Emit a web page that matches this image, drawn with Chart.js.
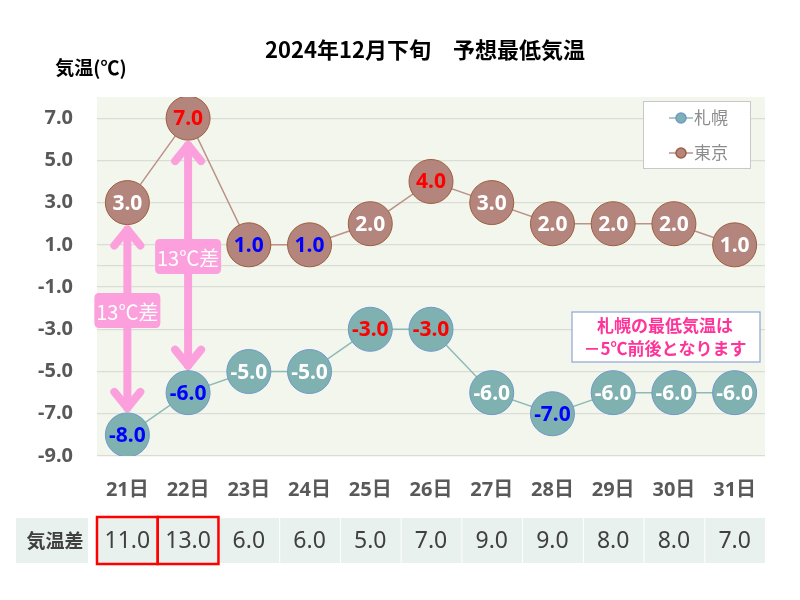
<!DOCTYPE html>
<html>
<head>
<meta charset="utf-8">
<script src="https://cdn.jsdelivr.net/npm/chart.js@4.4.1/dist/chart.umd.min.js"></script>
<style>
  body { margin: 0; background: #fff; }
  canvas { display: block; }
</style>
</head>
<body>
<canvas id="myCanvas" width="800" height="600"></canvas>
<script>
var days = ["21日", "22日", "23日", "24日", "25日", "26日", "27日", "28日", "29日", "30日", "31日"];
var sapporo = [-8, -6, -5, -5, -3, -3, -6, -7, -6, -6, -6];
var tokyo = [3, 7, 1, 1, 2, 4, 3, 2, 2, 2, 1];
var diff = [11, 13, 6, 6, 5, 7, 9, 9, 8, 8, 7];
var sapporoLabelColors = ["#0000ff", "#0000ff", "#fff", "#fff", "#ff0000", "#ff0000", "#fff", "#0000ff", "#fff", "#fff", "#fff"];
var tokyoLabelColors = ["#fff", "#ff0000", "#0000ff", "#0000ff", "#fff", "#ff0000", "#fff", "#fff", "#fff", "#fff", "#fff"];

var FONT = '"Noto Sans", "Noto Sans CJK JP", sans-serif';
var JFONT = '"Noto Sans CJK JP", "Noto Sans", sans-serif';

function roundRect(ctx, x, y, w, h, r) {
  ctx.beginPath();
  ctx.moveTo(x + r, y);
  ctx.lineTo(x + w - r, y);
  ctx.quadraticCurveTo(x + w, y, x + w, y + r);
  ctx.lineTo(x + w, y + h - r);
  ctx.quadraticCurveTo(x + w, y + h, x + w - r, y + h);
  ctx.lineTo(x + r, y + h);
  ctx.quadraticCurveTo(x, y + h, x, y + h - r);
  ctx.lineTo(x, y + r);
  ctx.quadraticCurveTo(x, y, x + r, y);
  ctx.closePath();
}

function arrow(ctx, x, y1, y2) {
  ctx.save();
  ctx.strokeStyle = "#fba0dc";
  ctx.lineWidth = 8;
  ctx.lineCap = "round";
  ctx.lineJoin = "round";
  ctx.beginPath();
  ctx.moveTo(x, y1 + 3);
  ctx.lineTo(x, y2 - 3);
  ctx.stroke();
  ctx.beginPath();
  ctx.moveTo(x - 13, y1 + 19);
  ctx.lineTo(x, y1 + 3);
  ctx.lineTo(x + 13, y1 + 19);
  ctx.stroke();
  ctx.beginPath();
  ctx.moveTo(x - 13, y2 - 19);
  ctx.lineTo(x, y2 - 3);
  ctx.lineTo(x + 13, y2 - 19);
  ctx.stroke();
  ctx.restore();
}

function diffTag(ctx, x, y, text) {
  ctx.save();
  ctx.fillStyle = "#fba0dc";
  roundRect(ctx, x - 33, y - 18, 66, 35, 5);
  ctx.fill();
  ctx.fillStyle = "#fff";
  ctx.font = "20px " + JFONT;
  ctx.textAlign = "center";
  ctx.textBaseline = "middle";
  ctx.fillText(text, x, y + 1);
  ctx.restore();
}

var bgPlugin = {
  id: "plotBg",
  beforeDraw: function (chart) {
    var a = chart.chartArea;
    var ctx = chart.ctx;
    ctx.save();
    ctx.fillStyle = "#f2f6ec";
    ctx.fillRect(a.left, a.top, a.right - a.left, a.bottom - a.top);
    ctx.restore();
  }
};

var extrasPlugin = {
  id: "extras",
  afterDatasetsDraw: function (chart) {
    var ctx = chart.ctx;
    var x = chart.scales.x;
    var y = chart.scales.y;

    // labels inside circles
    var sets = [[0, sapporoLabelColors], [1, tokyoLabelColors]];
    ctx.save();
    ctx.font = "bold 21px " + FONT;
    ctx.textAlign = "center";
    ctx.textBaseline = "middle";
    sets.forEach(function (s) {
      var meta = chart.getDatasetMeta(s[0]);
      var data = chart.data.datasets[s[0]].data;
      meta.data.forEach(function (pt, i) {
        ctx.fillStyle = s[1][i];
        ctx.fillText(data[i].toFixed(1), pt.x, pt.y + 1);
      });
    });
    ctx.restore();

    // arrows
    var r = 24;
    var x0 = x.getPixelForValue(0);
    var x1 = x.getPixelForValue(1);
    arrow(ctx, x0, y.getPixelForValue(tokyo[0]) + r, y.getPixelForValue(sapporo[0]) - r);
    arrow(ctx, x1, y.getPixelForValue(tokyo[1]) + r, y.getPixelForValue(sapporo[1]) - r);
    diffTag(ctx, x0, 311, "13℃差");
    diffTag(ctx, x1, 257, "13℃差");

    // note box
    ctx.save();
    ctx.fillStyle = "#fff";
    ctx.fillRect(572, 312, 188, 50);
    ctx.strokeStyle = "#8ea6d4";
    ctx.lineWidth = 1.2;
    ctx.strokeRect(572, 312, 188, 50);
    ctx.fillStyle = "#ff3399";
    ctx.font = "bold 17px " + JFONT;
    ctx.textAlign = "center";
    ctx.textBaseline = "middle";
    ctx.fillText("札幌の最低気温は", 665, 326);
    ctx.fillText("－5℃前後となります", 665, 349);
    ctx.restore();

    // legend
    ctx.save();
    ctx.fillStyle = "#fff";
    ctx.fillRect(643, 101, 107, 67);
    ctx.strokeStyle = "#c8c8c8";
    ctx.lineWidth = 1;
    ctx.strokeRect(643.5, 101.5, 107, 67);
    var items = [["札幌", chart.data.datasets[0]], ["東京", chart.data.datasets[1]]];
    items.forEach(function (it, k) {
      var ly = 118 + k * 35;
      ctx.strokeStyle = it[1].borderColor;
      ctx.lineWidth = 1.5;
      ctx.beginPath();
      ctx.moveTo(669, ly);
      ctx.lineTo(693, ly);
      ctx.stroke();
      ctx.beginPath();
      ctx.arc(681, ly, 5, 0, Math.PI * 2);
      ctx.fillStyle = it[1].pointBackgroundColor;
      ctx.fill();
      ctx.strokeStyle = it[1].pointBorderColor;
      ctx.stroke();
      ctx.fillStyle = "#8c8c8c";
      ctx.font = "17px " + JFONT;
      ctx.textAlign = "left";
      ctx.textBaseline = "middle";
      ctx.fillText(it[0], 694, ly);
    });
    ctx.restore();
  },
  afterDraw: function (chart) {
    var ctx = chart.ctx;
    var x = chart.scales.x;

    // title and axis title
    ctx.save();
    ctx.fillStyle = "#000";
    ctx.font = "bold 22px " + JFONT;
    ctx.textAlign = "center";
    ctx.textBaseline = "middle";
    ctx.fillText("2024年12月下旬　予想最低気温", 425, 50);
    ctx.font = "bold 19px " + JFONT;
    ctx.fillText("気温(℃)", 91, 68);
    ctx.restore();

    // difference table
    var top = 518, h = 45;
    ctx.save();
    ctx.fillStyle = "#e9f1ef";
    ctx.fillRect(16, top, 72, h);
    var half = (x.getPixelForValue(1) - x.getPixelForValue(0)) / 2;
    diff.forEach(function (d, i) {
      var cx = x.getPixelForValue(i);
      ctx.fillStyle = "#e9f1ef";
      ctx.fillRect(cx - half + 1, top, half * 2 - 1, h);
    });
    ctx.fillStyle = "#404040";
    ctx.font = "bold 19px " + JFONT;
    ctx.textAlign = "center";
    ctx.textBaseline = "middle";
    ctx.fillText("気温差", 55, top + h / 2);
    ctx.font = "23px " + FONT;
    diff.forEach(function (d, i) {
      ctx.fillText(d.toFixed(1), x.getPixelForValue(i), top + h / 2 + 1);
    });
    ctx.strokeStyle = "#ff0000";
    ctx.lineWidth = 2.5;
    [0, 1].forEach(function (i) {
      var cx = x.getPixelForValue(i);
      ctx.strokeRect(cx - half, top - 1, half * 2, h + 2);
    });
    ctx.restore();
  }
};

var ctx = document.getElementById("myCanvas");
var chart = new Chart(ctx, {
  type: "line",
  data: {
    labels: days,
    datasets: [
      {
        label: "札幌",
        data: sapporo,
        borderColor: "#8ebab6",
        borderWidth: 1.5,
        pointRadius: 22,
        pointHoverRadius: 22,
        pointBackgroundColor: "#7fb1b0",
        pointBorderColor: "#6f98cc",
        pointBorderWidth: 1,
      },
      {
        label: "東京",
        data: tokyo,
        borderColor: "#bb9189",
        borderWidth: 1.5,
        pointRadius: 22,
        pointHoverRadius: 22,
        pointBackgroundColor: "#b4857c",
        pointBorderColor: "#9e5e3e",
        pointBorderWidth: 1,
      },
    ],
  },
  options: {
    responsive: false,
    animation: false,
    events: [],
    layout: { padding: { left: 0, right: 35, top: 97, bottom: 94 } },
    plugins: {
      legend: { display: false },
      tooltip: { enabled: false },
    },
    scales: {
      x: {
        offset: true,
        grid: { display: false, drawTicks: false },
        border: { display: false },
        ticks: {
          color: "#595959",
          font: { family: FONT, size: 20, weight: "bold" },
          padding: 22,
          maxRotation: 0,
        },
        afterFit: function (s) { s.height = 50; },
      },
      y: {
        min: -9,
        max: 8,
        grid: {
          drawTicks: false,
          lineWidth: 1.2,
          color: function (c) {
            var v = c.tick.value;
            if (v === 0 || Math.abs(v % 2) === 1) return "#d9ddd6";
            return "rgba(0,0,0,0)";
          },
        },
        border: { display: false },
        ticks: {
          stepSize: 1,
          autoSkip: false,
          color: "#595959",
          font: { family: FONT, size: 20, weight: "bold" },
          padding: 24,
          callback: function (v) {
            return Math.abs(v % 2) === 1 ? v.toFixed(1) : "";
          },
        },
        afterFit: function (s) { s.width = 97; },
      },
    },
  },
  plugins: [bgPlugin, extrasPlugin],
});
</script>
</body>
</html>
